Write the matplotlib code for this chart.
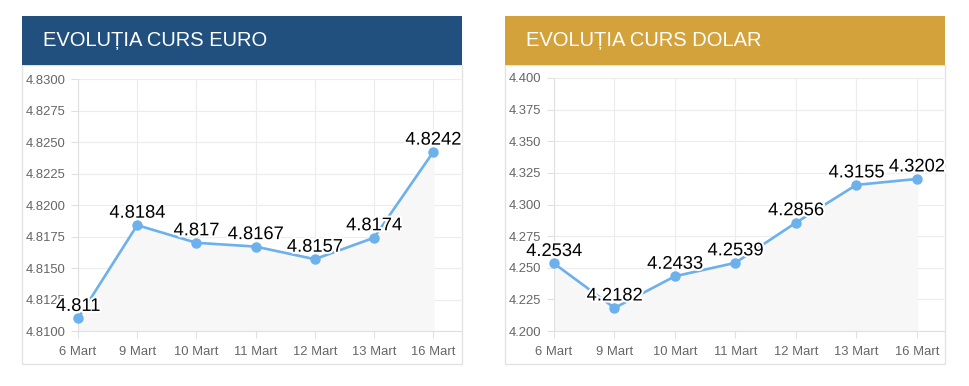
import matplotlib.pyplot as plt
from matplotlib.patches import Rectangle
import matplotlib.patheffects as pe

plt.rcParams['font.family'] = ['Liberation Sans', 'DejaVu Sans']

zile = ['6 Mart', '9 Mart', '10 Mart', '11 Mart', '12 Mart', '13 Mart', '16 Mart']
euro = [4.811, 4.8184, 4.817, 4.8167, 4.8157, 4.8174, 4.8242]
dolar = [4.2534, 4.2182, 4.2433, 4.2539, 4.2856, 4.3155, 4.3202]
euro_labels = ['4.811', '4.8184', '4.817', '4.8167', '4.8157', '4.8174', '4.8242']
dolar_labels = ['4.2534', '4.2182', '4.2433', '4.2539', '4.2856', '4.3155', '4.3202']

W, H = 970, 386
fig = plt.figure(figsize=(9.7, 3.86), dpi=100)


def px(x0, y0, x1, y1):
    # pixel box (top-left origin) -> figure fraction rect
    return [x0 / W, 1 - y1 / H, (x1 - x0) / W, (y1 - y0) / H]


def panel(hx0, hx1, title, hcolor, ax_box, vals, labels, ymin, ymax, step, fmt, xmax):
    # border of the panel
    fig.patches.append(Rectangle((hx0 / W, 1 - 364 / H), (hx1 - hx0) / W, (364 - 65) / H,
                                 transform=fig.transFigure, facecolor='white',
                                 edgecolor='#e3e3e3', lw=1, zorder=-2))
    # header
    fig.patches.append(Rectangle((hx0 / W, 1 - 65 / H), (hx1 - hx0) / W, (65 - 16) / H,
                                 transform=fig.transFigure, facecolor=hcolor,
                                 edgecolor='none', zorder=-1))
    fig.text((hx0 + 21) / W, 1 - 41 / H, title, color='white', fontsize=14.5,
             va='center', ha='left')

    ax = fig.add_axes(px(*ax_box))
    ax.set_zorder(2)
    ax.set_facecolor('none')
    x = list(range(len(vals)))
    ax.fill_between(x, vals, ymin, color='#f7f7f7', zorder=1)
    ax.plot(x, vals, color='#6cb0ec', lw=1.9, marker='o', ms=6.5, zorder=3, clip_on=False)
    for xi, v, lab in zip(x, vals, labels):
        ax.annotate(lab, (xi, v), xytext=(0, 2.5), textcoords='offset points',
                    ha='center', va='bottom', fontsize=13.2, color='black', zorder=4,
                    path_effects=[pe.withStroke(linewidth=3, foreground='white')])

    ticks = []
    t = ymin
    while t <= ymax + step / 2:
        ticks.append(t)
        t += step
    ax.set_ylim(ymin, ymax)
    ax.set_yticks(ticks)
    ax.set_yticklabels([fmt.format(t) for t in ticks])
    ax.set_xlim(0, xmax)
    ax.set_xticks(x)
    ax.set_xticklabels(zile)
    ax.grid(True, color='#ececec', lw=0.8, zorder=0)
    ax.set_axisbelow(True)
    ax.tick_params(colors='#e0e0e0', labelcolor='#666666', labelsize=9.4,
                   length=5, width=0.8, pad=4)
    ax.tick_params(axis='x', pad=6)
    for s in ['top', 'right']:
        ax.spines[s].set_visible(False)
    for s in ['left', 'bottom']:
        ax.spines[s].set_color('#e0e0e0')
        ax.spines[s].set_linewidth(0.8)
    return ax


panel(22, 462, 'EVOLUȚIA CURS EURO', '#21507f', (78, 79, 461, 331),
      euro, euro_labels, 4.81, 4.83, 0.0025, '{:.4f}', 6.47)
panel(505, 945, 'EVOLUȚIA CURS DOLAR', '#d4a23a', (554, 78, 944, 331),
      dolar, dolar_labels, 4.2, 4.4, 0.025, '{:.3f}', 6.45)

fig.savefig('out.png', dpi=100)
